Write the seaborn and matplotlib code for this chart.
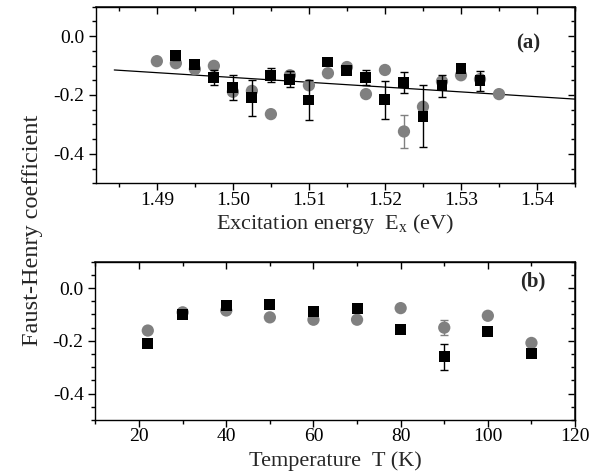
import numpy as np
import pandas as pd
import matplotlib
matplotlib.use('Agg')
import matplotlib.pyplot as plt
import seaborn as sns
from matplotlib.ticker import MultipleLocator, FormatStrFormatter

# values

# (a) coefficient against excitation energy
energy_circ = [1.4900, 1.4925, 1.4950, 1.4975, 1.5000, 1.5025, 1.5050, 1.5075, 1.5100, 1.5125,
               1.5150, 1.5175, 1.5200, 1.5225, 1.5250, 1.5275, 1.5300, 1.5325, 1.5350]
fh_circ = [-0.085, -0.092, -0.112, -0.101, -0.189, -0.186, -0.265, -0.133, -0.167, -0.126,
           -0.105, -0.197, -0.115, -0.324, -0.240, -0.154, -0.133, -0.146, -0.197]
err_circ = [0.0, 0.0, 0.0, 0.0, 0.0, 0.0, 0.0, 0.01, 0.0, 0.0,
            0.0, 0.0, 0.0, 0.055, 0.0, 0.01, 0.0, 0.0, 0.0]

energy_sq = [1.4925, 1.4950, 1.4975, 1.5000, 1.5025, 1.5050, 1.5075, 1.5100, 1.5125,
             1.5150, 1.5175, 1.5200, 1.5225, 1.5250, 1.5275, 1.5300, 1.5325]
fh_sq = [-0.065, -0.096, -0.141, -0.174, -0.210, -0.133, -0.146, -0.217, -0.088,
         -0.116, -0.141, -0.216, -0.158, -0.272, -0.169, -0.109, -0.152]
err_sq = [0.015, 0.012, 0.026, 0.042, 0.062, 0.024, 0.028, 0.068, 0.01,
          0.012, 0.026, 0.065, 0.035, 0.105, 0.038, 0.01, 0.034]

# straight line through panel (a)
fit_energy = [1.4844, 1.5450]
fit_fh = [-0.115, -0.214]

# (b) coefficient against temperature
temp = [22, 30, 40, 50, 60, 70, 80, 90, 100, 110]
fh_t_circ = [-0.161, -0.092, -0.085, -0.111, -0.120, -0.120, -0.076, -0.150, -0.105, -0.208]
err_t_circ = [0, 0, 0, 0, 0, 0, 0, 0.028, 0, 0]
fh_t_sq = [-0.211, -0.099, -0.067, -0.061, -0.090, -0.078, -0.158, -0.261, -0.166, -0.249]
err_t_sq = [0, 0, 0, 0, 0, 0, 0, 0.05, 0, 0]

sns.set_theme(style='ticks')
plt.rcParams['font.family'] = ['Liberation Serif', 'DejaVu Serif']
plt.rcParams['mathtext.fontset'] = 'custom'
plt.rcParams['mathtext.rm'] = 'Liberation Serif'
plt.rcParams['mathtext.it'] = 'Liberation Serif'
plt.rcParams['axes.unicode_minus'] = False

GRAY = '#808080'

fig = plt.figure(figsize=(5.99, 4.72), dpi=100)
ax_a = fig.add_axes([0.1603, 0.6117, 0.7997, 0.3741])
ax_b = fig.add_axes([0.1594, 0.1102, 0.8006, 0.3354])


def style_axes(ax, xmaj, xmin, xfmt):
    ax.set_ylim(-0.5, 0.1)
    ax.xaxis.set_major_locator(MultipleLocator(xmaj))
    ax.xaxis.set_minor_locator(MultipleLocator(xmin))
    ax.yaxis.set_major_locator(MultipleLocator(0.2))
    ax.yaxis.set_minor_locator(MultipleLocator(0.05))
    ax.xaxis.set_major_formatter(FormatStrFormatter(xfmt))
    ax.yaxis.set_major_formatter(FormatStrFormatter('%.1f'))
    ax.tick_params(which='both', direction='out', top=False, right=False,
                   colors='black', labelsize=14, width=1.0)
    ax.tick_params(axis='x', which='major', pad=1)
    ax.tick_params(which='major', length=5)
    ax.tick_params(which='minor', length=3)
    for sp in ax.spines.values():
        sp.set_visible(True)
        sp.set_color('black')
        sp.set_linewidth(1.0)
    # inward ticks on the opposite sides
    top = ax.secondary_xaxis('top')
    top.xaxis.set_major_locator(MultipleLocator(xmaj))
    top.xaxis.set_minor_locator(MultipleLocator(xmin))
    top.tick_params(which='both', direction='in', labeltop=False, width=1.0, colors='black')
    top.tick_params(which='major', length=5)
    top.tick_params(which='minor', length=3)
    right = ax.secondary_yaxis('right')
    right.yaxis.set_major_locator(MultipleLocator(0.2))
    right.yaxis.set_minor_locator(MultipleLocator(0.05))
    right.tick_params(which='both', direction='in', labelright=False, width=1.0, colors='black')
    right.tick_params(which='major', length=5)
    right.tick_params(which='minor', length=3)
    ax.set_ylabel('')


# panel (a)
df_ac = pd.DataFrame({'E': energy_circ, 'FH': fh_circ, 'err': err_circ})
df_as = pd.DataFrame({'E': energy_sq, 'FH': fh_sq, 'err': err_sq})
df_fit = pd.DataFrame({'E': fit_energy, 'FH': fit_fh})

sns.lineplot(data=df_fit, x='E', y='FH', color='black', linewidth=0.9, ax=ax_a, zorder=2)
ax_a.errorbar(df_ac['E'], df_ac['FH'], yerr=df_ac['err'], fmt='none', ecolor=GRAY,
              elinewidth=1.0, capsize=3, capthick=1.0, zorder=3)
sns.scatterplot(data=df_ac, x='E', y='FH', color=GRAY, marker='o', s=78,
                edgecolor='none', ax=ax_a, zorder=4)
ax_a.errorbar(df_as['E'], df_as['FH'], yerr=df_as['err'], fmt='none', ecolor='black',
              elinewidth=1.0, capsize=3, capthick=1.0, zorder=5)
sns.scatterplot(data=df_as, x='E', y='FH', color='black', marker='s', s=62,
                edgecolor='none', ax=ax_a, zorder=6)
ax_a.set_xlim(1.482, 1.545)
style_axes(ax_a, 0.01, 0.005, '%.2f')
ax_a.set_xlabel('Excitation energy  E$_{x}$ (eV)', fontsize=16)
ax_a.xaxis.set_label_coords(0.5, -0.16)
ax_a.text(0.902, 0.794, '(a)', transform=ax_a.transAxes, fontsize=15, fontweight='bold',
          ha='center', va='center')

# panel (b)
df_bc = pd.DataFrame({'T': temp, 'FH': fh_t_circ, 'err': err_t_circ})
df_bs = pd.DataFrame({'T': temp, 'FH': fh_t_sq, 'err': err_t_sq})

ax_b.errorbar(df_bc['T'], df_bc['FH'], yerr=df_bc['err'], fmt='none', ecolor=GRAY,
              elinewidth=1.0, capsize=3, capthick=1.0, zorder=3)
sns.scatterplot(data=df_bc, x='T', y='FH', color=GRAY, marker='o', s=78,
                edgecolor='none', ax=ax_b, zorder=4)
ax_b.errorbar(df_bs['T'], df_bs['FH'], yerr=df_bs['err'], fmt='none', ecolor='black',
              elinewidth=1.0, capsize=3, capthick=1.0, zorder=5)
sns.scatterplot(data=df_bs, x='T', y='FH', color='black', marker='s', s=62,
                edgecolor='none', ax=ax_b, zorder=6)
ax_b.set_xlim(10, 120)
style_axes(ax_b, 20, 10, '%d')
ax_b.set_xlabel('Temperature  T (K)', fontsize=16)
ax_b.xaxis.set_label_coords(0.5, -0.2)
ax_b.text(0.912, 0.872, '(b)', transform=ax_b.transAxes, fontsize=15, fontweight='bold',
          ha='center', va='center')

fig.text(0.055, 0.513, 'Faust-Henry coefficient', rotation=90, fontsize=17.5,
         ha='center', va='center')

fig.savefig('out.png', dpi=100)
